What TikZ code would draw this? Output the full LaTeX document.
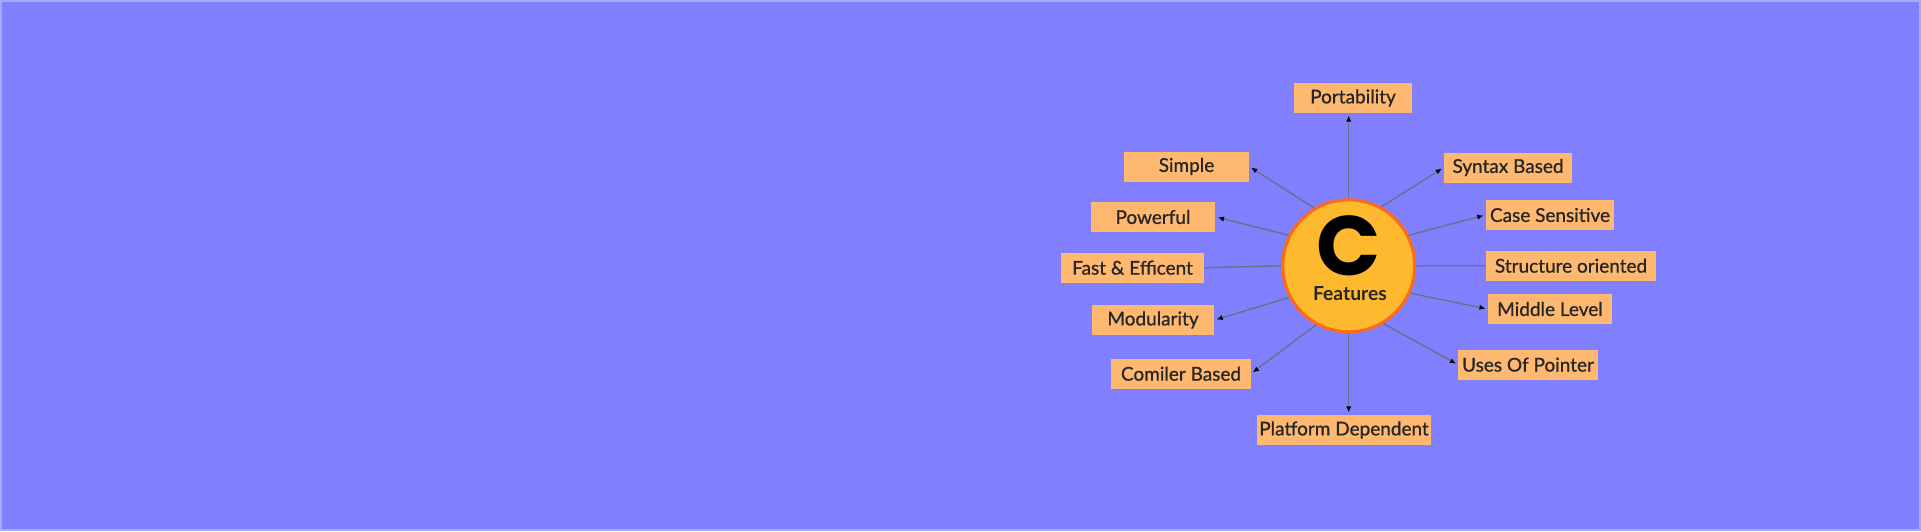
\documentclass[tikz,border=0pt]{standalone}
\usepackage{fontspec}
\setmainfont{Lato}
\newfontfamily\boxfont{Lato}[FakeBold=0.8]
\newfontfamily\logofont{Poppins}
\usetikzlibrary{arrows.meta}
\definecolor{bgblue}{HTML}{8080FF}
\definecolor{bgedge}{HTML}{A8A8F4}
\definecolor{boxorange}{HTML}{FFB870}
\definecolor{discfill}{HTML}{FFB92E}
\definecolor{discring}{HTML}{FF6A13}
\definecolor{linkgray}{HTML}{6E6E88}
\begin{document}
\begin{tikzpicture}[x=0.02cm, y=-0.02cm,
  feat/.style={fill=boxorange, minimum height=0.6cm, inner sep=0pt, text=black!85, font=\boxfont\fontsize{10.8}{13}\selectfont},
  plain/.style={draw=linkgray, line width=0.8pt},
  link/.style={plain, shorten >=1.2pt, -{Latex[length=3.5pt,width=3pt,black]}}]
  \fill[bgblue] (0,0) rectangle (1921,531);
  \draw[bgedge, line width=0.6pt] (1,1) rectangle (1920,530);
  \node[circle, fill=discfill, draw=discring, line width=1.7pt, minimum size=2.64cm] (c) at (1348.7,265.8) {};
  \node[inner sep=0pt, font=\logofont\bfseries\fontsize{48}{48}\selectfont] (cletter) at (1349,246) {C};
  \node[inner sep=0pt, font=\bfseries\fontsize{11}{12}\selectfont, text=black!85] (cfeat) at (1350,294) {Features};
  \node[feat, minimum width=2.36cm] (portability) at (1353,98) {Portability};
  \node[feat, minimum width=2.5cm] (simple) at (1186.5,166.5) {Simple};
  \node[feat, minimum width=2.5cm] (powerful) at (1153,217) {Powerful};
  \node[feat, minimum width=2.87cm] (fast) at (1132.5,267.7) {Fast \& Efficent};
  \node[feat, minimum width=2.45cm] (modularity) at (1153,320) {Modularity};
  \node[feat, minimum width=2.79cm] (comiler) at (1181,373.7) {Comiler Based};
  \node[feat, minimum width=3.5cm] (platform) at (1344,430) {Platform Dependent};
  \node[feat, minimum width=2.56cm] (syntax) at (1508,167.5) {Syntax Based};
  \node[feat, minimum width=2.57cm] (case) at (1550,215) {Case Sensitive};
  \node[feat, minimum width=3.4cm] (structure) at (1571,265.7) {Structure oriented};
  \node[feat, minimum width=2.48cm] (middle) at (1550,309) {Middle Level};
  \node[feat, minimum width=2.79cm] (uses) at (1528,364.7) {Uses Of Pointer};
  \draw[link] (c.north) -- (c.north |- portability.south);
  \draw[link] (c.121) -- (simple.east);
  \draw[link] (c.153) -- (powerful.east);
  \draw[plain] (c.west) -- (fast.east);
  \draw[link] (c.208) -- (modularity.east);
  \draw[link] (c.241) -- (comiler.east);
  \draw[link] (c.south) -- (c.south |- platform.north);
  \draw[link] (c.61) -- (syntax.west);
  \draw[link] (c.27) -- (case.west);
  \draw[plain] (c.east) -- (structure.west);
  \draw[link] (c.336) -- (middle.west);
  \draw[link] (c.301) -- (uses.west);
\end{tikzpicture}
\end{document}
